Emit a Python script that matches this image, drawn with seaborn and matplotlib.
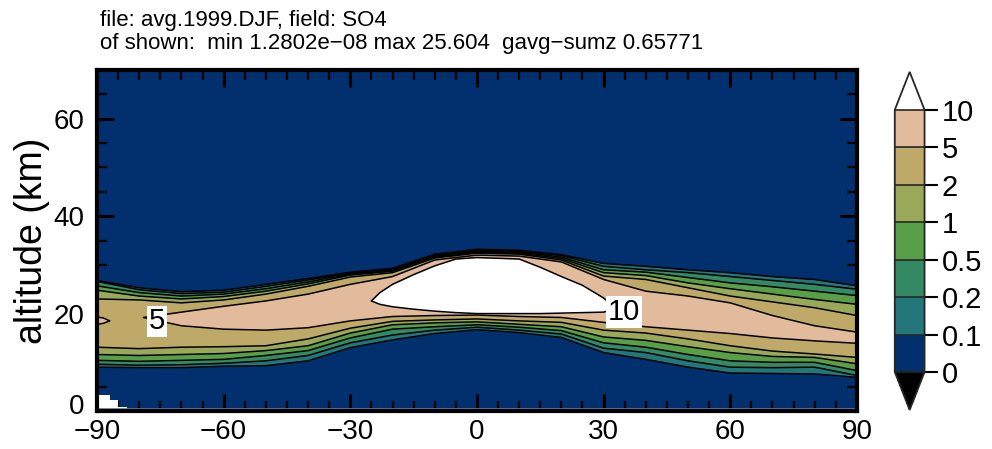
import numpy as np
import matplotlib
matplotlib.use("Agg")
import matplotlib.pyplot as plt
import matplotlib.transforms as mtransforms
from matplotlib.colors import ListedColormap, BoundaryNorm
from matplotlib.cm import ScalarMappable
import seaborn as sns

# ---- data: zonal-mean SO4 (avg.1999.DJF), heights (km) of each contour level ----
lat = [-90, -80, -70, -60, -50, -40, -30, -20, -10, 0, 10, 20, 30, 40, 50, 60, 70, 80, 90]

# upper edge of the region where SO4 exceeds each level
top_0p1 = [26.8, 25.3, 24.5, 24.8, 26.0, 27.2, 28.5, 29.3, 32.2, 33.2, 33.0, 32.1, 30.3, 29.7, 29.0, 28.4, 27.6, 27.0, 25.7]
top_0p2 = [26.6, 24.9, 24.1, 24.4, 25.6, 26.9, 28.3, 29.1, 32.0, 33.0, 32.8, 31.9, 29.7, 29.0, 28.4, 27.6, 26.8, 26.0, 25.0]
top_0p5 = [25.7, 24.3, 23.6, 24.0, 25.1, 26.5, 28.1, 28.9, 31.8, 32.8, 32.6, 31.6, 29.0, 28.5, 27.4, 26.3, 25.5, 24.6, 23.7]
top_1 = [24.8, 23.6, 23.0, 23.5, 24.6, 26.1, 27.9, 28.7, 31.6, 32.6, 32.4, 31.3, 28.4, 27.8, 26.3, 25.1, 24.0, 22.9, 21.9]
top_2 = [23.0, 22.8, 22.2, 22.8, 24.0, 25.6, 27.5, 28.4, 31.4, 32.4, 32.2, 31.0, 27.7, 27.0, 25.3, 23.6, 22.4, 21.2, 19.6]

# lower edge of the same regions
bot_0p1 = [9.0, 8.9, 8.9, 9.2, 9.3, 10.3, 13.0, 14.6, 15.9, 16.7, 16.1, 15.1, 12.0, 10.6, 9.0, 7.8, 7.7, 7.6, 6.9]
bot_0p2 = [9.6, 9.4, 9.5, 9.8, 10.3, 11.4, 14.0, 15.6, 16.6, 17.2, 16.6, 15.8, 12.9, 12.0, 10.3, 9.0, 8.9, 9.0, 7.3]
bot_0p5 = [10.4, 10.2, 10.4, 10.6, 11.4, 12.4, 15.0, 16.8, 17.3, 17.7, 17.2, 16.5, 14.0, 13.1, 11.6, 10.3, 10.0, 10.0, 8.3]
bot_1 = [11.6, 11.4, 11.6, 11.8, 12.4, 13.4, 16.0, 17.7, 18.1, 18.3, 17.8, 17.3, 15.2, 14.5, 13.2, 12.0, 11.2, 11.0, 9.7]
bot_2 = [13.1, 12.8, 13.1, 13.2, 13.4, 14.8, 17.0, 18.4, 18.7, 18.9, 18.5, 18.2, 16.6, 16.0, 14.8, 13.4, 12.3, 11.7, 11.0]

# SO4 > 5: main layer and a small cell at the south pole
lat_5 = [-79, -70, -60, -50, -40, -30, -20, -10, 0, 10, 20, 30, 40, 50, 60, 70, 80, 90]
top_5 = [19.2, 20.3, 21.5, 22.6, 24.0, 26.0, 27.6, 31.0, 32.0, 31.8, 30.6, 27.0, 24.6, 23.6, 22.2, 19.6, 17.5, 16.2]
bot_5 = [19.2, 17.5, 16.8, 16.6, 17.1, 18.5, 19.4, 19.6, 19.7, 19.4, 19.2, 18.2, 17.3, 16.6, 15.9, 15.0, 14.4, 13.9]
lat_5_sp = [-90, -88.5, -87]
top_5_sp = [19.3, 19.1, 18.5]
bot_5_sp = [17.8, 18.0, 18.5]

# SO4 > 10: tropical core
lat_10 = [-25, -23, -20, -15, -10, -5, 0, 10, 15, 20, 25, 30, 33]
top_10 = [22.6, 24.3, 26.0, 28.0, 29.8, 31.2, 31.5, 31.2, 29.5, 27.6, 25.8, 23.2, 21.0]
bot_10 = [22.6, 21.9, 21.4, 20.9, 20.5, 20.2, 20.0, 20.0, 20.0, 20.1, 20.2, 20.3, 21.0]

# Antarctic surface (no data below)
ground_lat = [-90, -87, -85, -83, -82]
ground_alt = [3.2, 2.2, 0.9, 0.0, 0.0]

levels = [0, 0.1, 0.2, 0.5, 1, 2, 5, 10]
level_labels = ["0", "0.1", "0.2", "0.5", "1", "2", "5", "10"]
colors = ["#02306f", "#23767a", "#358a66", "#599f47", "#9aa959", "#bfa968", "#e2bb9d"]
over_color = "white"
under_color = "black"

title_1 = "file: avg.1999.DJF, field: SO4"
title_2 = "of shown:  min 1.2802e\u221208 max 25.604  gavg\u2212sumz 0.65771"

# ---- style ----
sns.set_theme(style="ticks")
plt.rcParams["font.family"] = ["Liberation Sans", "DejaVu Sans"]
plt.rcParams["axes.unicode_minus"] = True
for key in ["text.color", "axes.labelcolor", "xtick.color", "ytick.color",
            "xtick.labelcolor", "ytick.labelcolor"]:
    plt.rcParams[key] = "black"

fig = plt.figure(figsize=(9.92, 4.49), dpi=100)
ax = fig.add_axes([0.0978, 0.0846, 0.766, 0.7595])
ax.set_facecolor(colors[0])

# filled bands, lowest level first
band_edges = [(lat, bot_0p1, top_0p1), (lat, bot_0p2, top_0p2), (lat, bot_0p5, top_0p5),
              (lat, bot_1, top_1), (lat, bot_2, top_2)]
for (x, lo, hi), c in zip(band_edges, colors[1:6]):
    ax.fill_between(x, lo, hi, color=c, lw=0)
ax.fill_between(lat_5, bot_5, top_5, color=colors[6], lw=0)
ax.fill_between(lat_5_sp, bot_5_sp, top_5_sp, color=colors[6], lw=0)
ax.fill_between(lat_10, bot_10, top_10, color=over_color, lw=0)

# contour lines
line_sets = band_edges + [(lat_5, bot_5, top_5), (lat_5_sp, bot_5_sp, top_5_sp),
                          (lat_10, bot_10, top_10)]
for x, lo, hi in line_sets:
    sns.lineplot(x=x, y=lo, color="black", lw=1.1, sort=False, ax=ax)
    sns.lineplot(x=x, y=hi, color="black", lw=1.1, sort=False, ax=ax)

# surface mask
ax.fill_between(ground_lat, 0, ground_alt, step="post", color="white", lw=0)
ax.axhline(0.35, color="#7080b0", lw=1.2)

# inline level labels
for xl, yl, v in [(-75.8, 18.4, levels[6]), (34.8, 20.3, levels[7])]:
    ax.text(xl, yl, f"{v:g}", ha="center", va="center", fontsize=21,
            bbox=dict(facecolor="white", edgecolor="none", pad=1.2))

ax.set_xlim(-90, 90)
ax.set_ylim(0, 70)
ax.set_xticks(np.arange(-90, 91, 30))
ax.set_xticks(np.arange(-90, 91, 5), minor=True)
ax.set_yticks(np.arange(0, 61, 20))
ax.set_yticks(np.arange(0, 70, 5), minor=True)
ax.tick_params(which="major", direction="in", length=12, width=2.2, top=True, right=True,
               labelsize=20, color="black")
ax.tick_params(axis="x", which="major", pad=6)
ax.tick_params(axis="y", which="major", pad=9)
ax.tick_params(which="minor", direction="in", length=7, width=1.6, top=True, right=True,
               color="black")
ax.set_ylabel("altitude (km)", fontsize=27)
ax.yaxis.set_label_coords(-0.085, 0.5)
ax.yaxis.label.set_verticalalignment("center")
ax.set_xlabel("")
for s in ax.spines.values():
    s.set_linewidth(3)
    s.set_color("black")
ax.grid(False)

# lift the "0" altitude label a little so it clears the first longitude label
zero_label = ax.get_yticklabels()[0]
zero_label.set_transform(zero_label.get_transform()
                         + mtransforms.ScaledTranslation(0, 5 / 72, fig.dpi_scale_trans))

fig.text(0.101, 0.942, title_1, fontsize=16)
fig.text(0.101, 0.891, title_2, fontsize=16)

# colour bar
cmap = ListedColormap(colors)
cmap.set_over(over_color)
cmap.set_under(under_color)
norm = BoundaryNorm(levels, cmap.N)
cax = fig.add_axes([0.902, 0.0869, 0.030, 0.753])
cb = fig.colorbar(ScalarMappable(norm=norm, cmap=cmap), cax=cax, extend="both",
                  extendfrac=0.145, spacing="uniform", ticks=levels, drawedges=True)
cb.ax.set_yticklabels(level_labels)
cb.ax.tick_params(direction="out", length=9, width=1.5, labelsize=21, color="black")
cb.outline.set_linewidth(1.3)
cb.dividers.set_linewidth(1.2)

fig.savefig("out.png", dpi=100)
